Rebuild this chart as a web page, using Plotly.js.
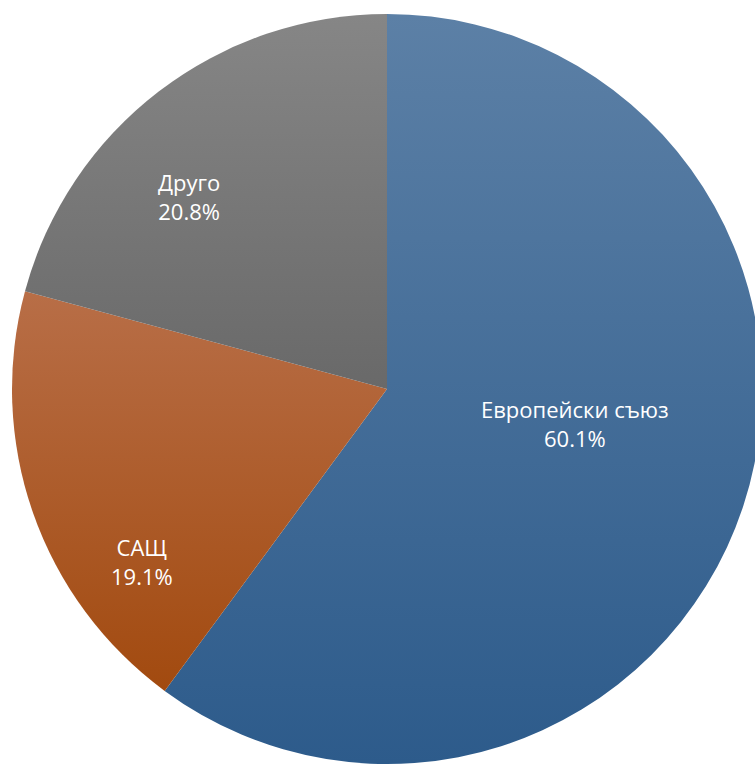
<!DOCTYPE html>
<html>
<head>
<meta charset="utf-8">
<script src="https://cdn.plot.ly/plotly-3.0.1.min.js"></script>
<style>
html, body { margin: 0; padding: 0; overflow: hidden; background: #ffffff; }
#chart { width: 775px; height: 765px; }
</style>
</head>
<body>
<div id="chart"></div>
<script>
// ---- data ----
const categories = ["Европейски съюз", "САЩ", "Друго"];
const shares = [60.1, 19.1, 20.8];

// ---- styles ----
const sliceColors = ["#43709e", "#ad5a2a", "#767676"];
const gradTop = ["#5c80a6", "#b86e47", "#868686"];
const gradBottom = ["#2d5b8b", "#a24a0f", "#696969"];
// label block centres in paper fractions
const labelX = [0.742, 0.183, 0.2445];
const labelY = [0.447, 0.2654, 0.7425];

const W = 775, H = 765;
const cx = 387, cy = 389, R = 375;

const annotations = categories.map((c, i) => ({
  xref: "paper", yref: "paper",
  x: labelX[i], y: labelY[i],
  xanchor: "center", yanchor: "middle",
  text: c + "<br>" + shares[i].toFixed(1) + "%",
  showarrow: false,
  align: "center",
  font: { family: "Open Sans, Noto Sans, sans-serif", size: 22, color: "#ffffff" }
}));

Plotly.newPlot("chart", [{
  type: "pie",
  labels: categories,
  values: shares,
  sort: false,
  direction: "clockwise",
  rotation: 0,
  marker: { colors: sliceColors, line: { width: 0 } },
  textinfo: "none",
  hoverinfo: "none",
  domain: { x: [(cx - R) / W, (cx + R) / W], y: [(H - cy - R) / H, (H - cy + R) / H] }
}], {
  width: W,
  height: H,
  margin: { l: 0, r: 0, t: 0, b: 0 },
  paper_bgcolor: "#ffffff",
  showlegend: false,
  annotations: annotations
}, { displayModeBar: false, staticPlot: true }).then(gd => {
  const NS = "http://www.w3.org/2000/svg";
  const svg = gd.querySelector(".main-svg");
  let defs = svg.querySelector("defs");
  if (!defs) { defs = document.createElementNS(NS, "defs"); svg.insertBefore(defs, svg.firstChild); }
  gradTop.forEach((t, i) => {
    const lg = document.createElementNS(NS, "linearGradient");
    lg.setAttribute("id", "sliceGrad" + i);
    lg.setAttribute("x1", "0"); lg.setAttribute("y1", "0");
    lg.setAttribute("x2", "0"); lg.setAttribute("y2", "1");
    [[0, t], [1, gradBottom[i]]].forEach(([o, col]) => {
      const st = document.createElementNS(NS, "stop");
      st.setAttribute("offset", o);
      st.setAttribute("stop-color", col);
      lg.appendChild(st);
    });
    defs.appendChild(lg);
  });
  gd.querySelectorAll(".slice path.surface").forEach((p, i) => {
    p.style.fill = "url(#sliceGrad" + i + ")";
  });
});
</script>
</body>
</html>
